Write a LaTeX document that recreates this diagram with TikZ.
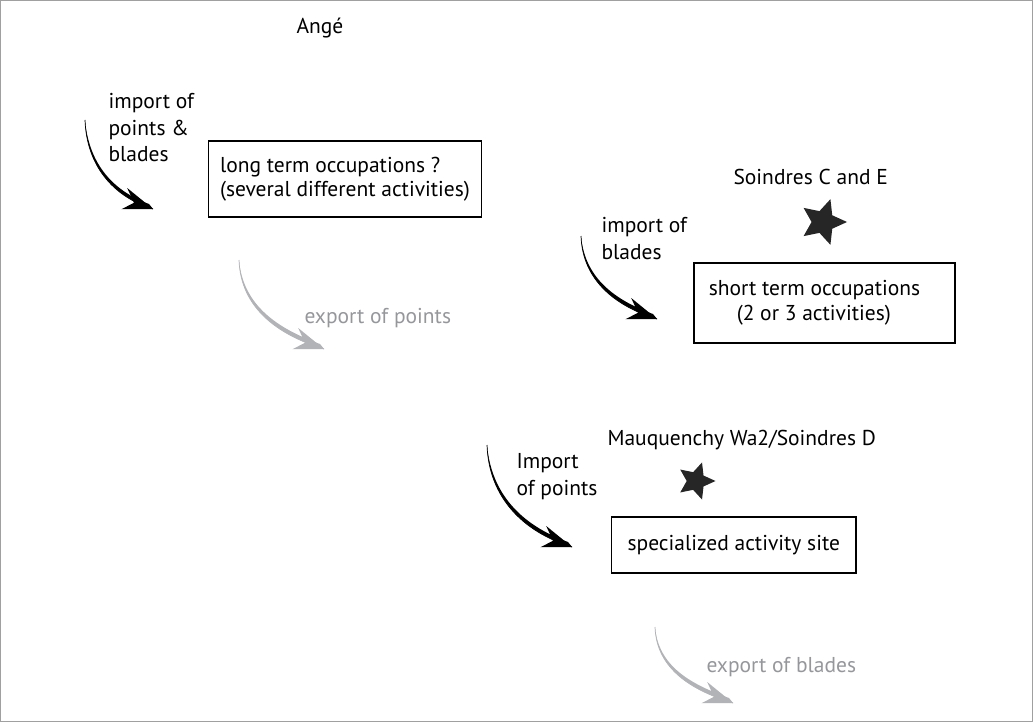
\documentclass[tikz,border=0pt]{standalone}
\usepackage{fontspec}
\setmainfont{PT Sans}
\usetikzlibrary{arrows.meta,shapes.geometric}
\definecolor{paleg}{RGB}{178,179,183}
\definecolor{textg}{RGB}{150,151,155}
\definecolor{framec}{RGB}{160,160,160}
% tapered curved arrow: #1 colour, #2 start, #3 end
\newcommand{\tapered}[3]{%
  \fill[#1] (#2) to[out=-88, in=163] (#3) -- ++(-4,5) to[out=160, in=-85] (#2);
  \draw[#1, line width=0.7pt] (#2) to[out=-88, in=163] (#3);
  \fill[#1, shift={(#3)}, rotate=-18] (0,0) -- (-31,12) -- (-20,0) -- (-30,-10) -- cycle;}

\begin{document}
\begin{tikzpicture}[x=1pt,y=1pt,font=\fontsize{21.5}{26.5}\selectfont,
  sitebox/.style={draw, line width=1.2pt, inner sep=0pt, align=left, font=\fontsize{21.5}{24.5}\selectfont},
  site/.style={star, star points=5, star point ratio=2.1, fill=black!85, inner sep=0pt, rotate=-18}]
\useasboundingbox (0,0) rectangle (1033,-722);
\draw[framec, line width=0.8pt] (0.5,-0.5) rectangle (1032.5,-721.5);
% top left: Ange
\node at (320,-28) (ange) {Angé};
\node[align=left, anchor=west] at (105,-128) (imp1) {import of\\points \&\\blades};
\node[sitebox, minimum width=273pt, minimum height=76pt] at (345,-179) (box1)
  {long term occupations ?\\(several different activities)};
\node[textg, anchor=west] at (301,-318) (exp1) {export of points};
\coordinate (a1s) at (85,-120);
\coordinate (a1e) at (153,-209);
\coordinate (g1s) at (239,-260);
\coordinate (g1e) at (324,-349);
\tapered{black}{a1s}{a1e}
\tapered{paleg}{g1s}{g1e}
% middle right: Soindres
\node[anchor=west] at (730,-177) (soin) {Soindres C and E};
\node[site, minimum size=48pt] at (823,-222) (star1) {};
\node[align=left, anchor=west] at (598,-238.5) (imp2) {import of\\blades};
\node[sitebox, minimum width=261pt, minimum height=80pt] at (824.5,-303) (box2)
  {short term occupations\hspace*{20pt}\\\hspace*{28pt}(2 or 3 activities)};
\coordinate (a2s) at (581,-236);
\coordinate (a2e) at (657,-319);
\tapered{black}{a2s}{a2e}
% bottom: Mauquenchy
\node[anchor=west] at (604,-440) (mauq) {Mauquenchy Wa2/Soindres D};
\node[site, minimum size=39pt] at (696,-481) (star2) {};
\node[align=left, anchor=west] at (513,-476.5) (imp3) {Import\\of points};
\node[sitebox, inner xsep=16pt, minimum height=56pt, anchor=west] at (611,-545) (box3)
  {specialized activity site};
\node[textg, anchor=west] at (703,-667) (exp2) {export of blades};
\coordinate (a3s) at (487,-445);
\coordinate (a3e) at (572,-547);
\coordinate (g2s) at (655,-627);
\coordinate (g2e) at (733,-703);
\tapered{black}{a3s}{a3e}
\tapered{paleg}{g2s}{g2e}
\end{tikzpicture}
\end{document}
